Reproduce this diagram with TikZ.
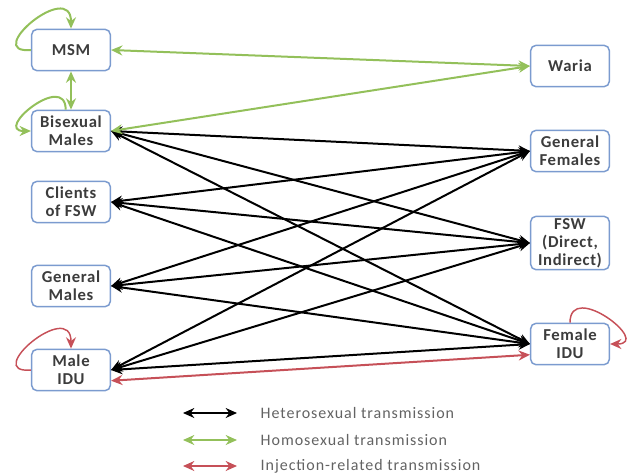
\documentclass[tikz,border=0pt]{standalone}
\usepackage{fontspec}
\setmainfont{Carlito}
\newfontfamily\boxfont{Carlito}[LetterSpace=4]
\newfontfamily\legfont{Carlito}[LetterSpace=6]
\usetikzlibrary{positioning,arrows.meta}
\definecolor{boxblue}{HTML}{7B9BCF}
\definecolor{homog}{HTML}{93C05A}
\definecolor{injr}{HTML}{C65058}
\definecolor{txtg}{HTML}{3C3C3C}

\begin{document}
\begin{tikzpicture}[x=0.75pt, y=-0.75pt, on grid, >={Stealth[length=8.5pt, width=7.5pt]},
    main/.style = {draw=boxblue, line width=1.1pt, rounded corners=4pt, fill=white,
        minimum width=59pt, minimum height=31pt, inner sep=1pt, align=center,
        text=txtg, font=\boxfont\fontsize{12.5}{13.5}\selectfont\bfseries},
    het/.style = {<->, line width=1.5pt, black},
    hom/.style = {<->, line width=1.5pt, homog},
    inj/.style = {<->, line width=1.5pt, injr},
    legtxt/.style = {anchor=west, text=txtg!80, font=\legfont\fontsize{12}{13}\selectfont}]
    \useasboundingbox (0,0) rectangle (627,475);

    % Gruppi di sinistra
    \node[main] (msm) at (71,50) {MSM};
    \node[main] (bis) [below=60.75pt of msm] {Bisexual\\Males};
    \node[main] (cli) [below=53.25pt of bis] {Clients\\of FSW};
    \node[main] (gm) [below=63pt of cli] {General\\Males};
    \node[main] (midu) [below=63pt of gm] {Male\\IDU};
    % Gruppi di destra
    \node[main] (war) at (570,66) {Waria};
    \node[main] (gf) [below=63.75pt of war] {General\\Females};
    \node[main, minimum height=40pt, inner sep=0pt] (fsw) [below=69pt of gf] {FSW\\(Direct,\\Indirect)};
    \node[main] (fidu) [below=75.75pt of fsw] {Female\\IDU};

    % Trasmissione eterosessuale
    \foreach \l in {bis,cli,gm,midu}
        \foreach \r in {gf,fsw,fidu}
            \draw[het] (\l.east) -- (\r.west);

    % Trasmissione omosessuale
    \draw[hom] (msm.east) -- (war.west);
    \draw[hom] (bis.east) -- (war.west);
    \draw[hom] (msm.south) -- (bis.north);
    \draw[->, line width=1.5pt, homog] (msm.west) to[out=185, in=90, looseness=2.8] (msm.north);
    \draw[->, line width=1.5pt, homog] ([xshift=-4pt]bis.north) to[out=90, in=180, looseness=2.4] (bis.west);

    % Trasmissione per iniezione
    \draw[inj] (midu.-15) -- (fidu.195);
    \draw[->, line width=1.1pt, injr] (midu.west) to[out=185, in=90, looseness=2.8] (midu.north);
    \draw[->, line width=1.1pt, injr] (fidu.north) to[out=90, in=0, looseness=2.4] (fidu.east);

    % Legenda
    \coordinate (h1) at (183,413);
    \coordinate (h2) at (237,413);
    \coordinate (o1) at (183,440);
    \coordinate (o2) at (237,440);
    \coordinate (i1) at (183,466);
    \coordinate (i2) at (237,466);
    \draw[het, line width=1.2pt] (h1) -- (h2);
    \draw[hom, line width=1.2pt] (o1) -- (o2);
    \draw[inj, line width=1.2pt] (i1) -- (i2);
    \node[legtxt] (lh) at (256,413) {Heterosexual transmission};
    \node[legtxt] (lo) at (256,440) {Homosexual transmission};
    \node[legtxt] (li) at (256,466) {Injection-related transmission};
\end{tikzpicture}
\end{document}
